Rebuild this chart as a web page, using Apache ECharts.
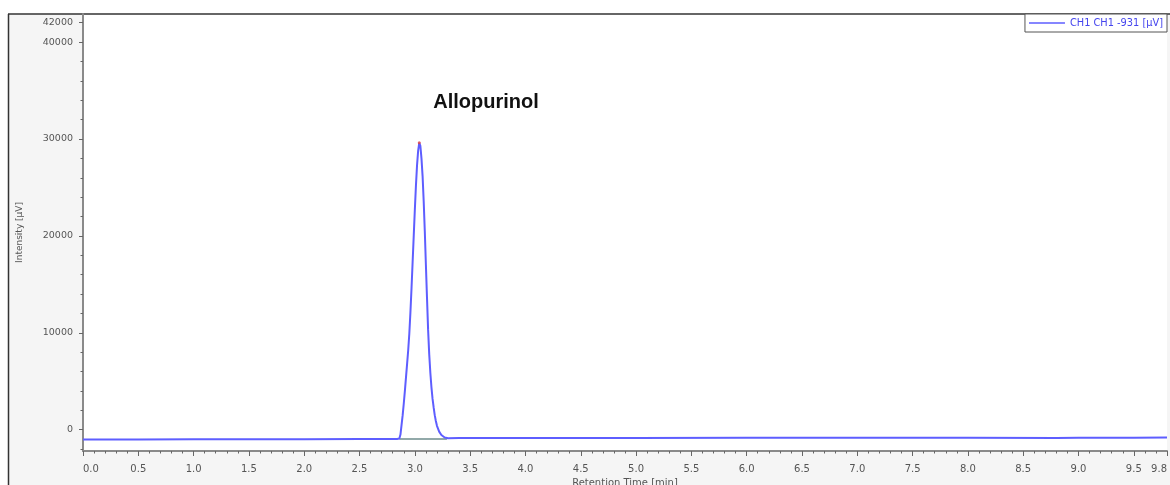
<!DOCTYPE html>
<html><head><meta charset="utf-8">
<script src="https://cdn.jsdelivr.net/npm/echarts@6/dist/echarts.min.js"></script>
<style>html,body{margin:0;padding:0;background:#fff}#c{width:1170px;height:485px}</style>
</head><body><div id="c"></div>
<script>
// Retention time [min] and intensity [µV]
const times = [0.0, 0.5, 1.0, 1.5, 2.0, 2.5, 2.80, 2.84, 2.86, 2.87, 2.88, 2.89, 2.90, 2.91, 2.92, 2.93, 2.94,
  2.95, 2.96, 2.97, 2.98, 2.99, 3.00, 3.01, 3.02, 3.03, 3.04, 3.05, 3.06, 3.07, 3.08, 3.09, 3.10, 3.11, 3.12,
  3.13, 3.14, 3.15, 3.16, 3.17, 3.18, 3.19, 3.20, 3.22, 3.24, 3.27, 3.30,
  3.4, 4.0, 5.0, 6.0, 7.0, 8.0, 8.8, 9.0, 9.5, 9.8];
const intensity = [-1020, -1010, -1000, -990, -980, -970, -960, -955, -920, -500, 500, 1500, 2700, 4000, 5400, 6800, 8200,
  9900, 12100, 14600, 17300, 20000, 22700, 25200, 27300, 28800, 29600, 29300, 28000, 26200, 23600, 20500, 17000, 13600, 10300,
  7800, 5900, 4400, 3200, 2300, 1500, 900, 400, -200, -550, -800, -880,
  -870, -860, -850, -840, -830, -820, -850, -830, -820, -800];
// integration baseline under the peak
const peakBaseTimes = [2.86, 3.29];
const peakBaseValues = [-950, -950];
const peakApex = [3.04, 29600];
const seriesName = 'CH1 CH1 -931 [µV]';
const peakName = 'Allopurinol';
const xLabelValues = [0, 0.5, 1.0, 1.5, 2.0, 2.5, 3.0, 3.5, 4.0, 4.5, 5.0, 5.5, 6.0, 6.5, 7.0, 7.5, 8.0, 8.5, 9.0, 9.5, 9.8];
const yLabelValues = [0, 10000, 20000, 30000, 40000, 42000];
const xName = 'Retention Time [min]';
const yName = 'Intensity [µV]';

const xMinor = []; for (let i = 0; i <= 98; i++) xMinor.push(+(i / 10).toFixed(1));
const yMinor = []; for (let v = -2000; v <= 42000; v += 2000) yMinor.push(v);

const FONT = 'DejaVu Sans';
const axisGray = '#8a8a8a';
const chart = echarts.init(document.getElementById('c'), null, {renderer: 'canvas'});
chart.setOption({
  animation: false,
  backgroundColor: '#fff',
  grid: {left: 83, right: 3, top: 14, bottom: 34, show: true, backgroundColor: '#fff', borderWidth: 0,
    containLabel: false, outerBoundsMode: 'none'},
  legend: {
    data: [{name: seriesName, icon: 'rect'}], right: 3, top: 14, padding: [3, 4, 3, 4], itemWidth: 36, itemHeight: 1.5, itemGap: 4,
    backgroundColor: '#fff', borderColor: '#555', borderWidth: 1, borderRadius: 0,
    textStyle: {color: '#4545ee', fontSize: 9.8, fontFamily: FONT, lineHeight: 12}
  },
  xAxis: [{
    type: 'value', min: 0, max: 9.8, position: 'bottom',
    name: xName, nameLocation: 'middle', nameGap: 27,
    nameTextStyle: {color: '#555', fontSize: 10, fontFamily: FONT, verticalAlign: 'top'},
    axisLine: {show: true, onZero: false, lineStyle: {color: axisGray, width: 2}},
    axisTick: {show: true, customValues: xLabelValues, length: 5, lineStyle: {color: '#666', width: 1}},
    axisLabel: {customValues: xLabelValues, formatter: v => v.toFixed(1), color: '#555', fontSize: 10, fontFamily: FONT, margin: 13,
      alignMinLabel: 'left', alignMaxLabel: 'right'},
    splitLine: {show: false}
  }, {
    type: 'value', min: 0, max: 9.8, position: 'bottom', offset: 0,
    axisLine: {show: false, onZero: false},
    axisTick: {show: true, customValues: xMinor, length: 2.5, lineStyle: {color: '#666', width: 1}},
    axisLabel: {show: false}, splitLine: {show: false}
  }],
  yAxis: [{
    type: 'value', min: -2200, max: 42900, position: 'left',
    name: yName, nameLocation: 'middle', nameGap: 59, nameRotate: 90,
    nameTextStyle: {color: '#555', fontSize: 9, fontFamily: FONT},
    axisLine: {show: true, onZero: false, lineStyle: {color: axisGray, width: 2}},
    axisTick: {show: true, customValues: yLabelValues, length: 4, lineStyle: {color: '#666', width: 1}},
    axisLabel: {customValues: yLabelValues, formatter: v => String(v), color: '#555', fontSize: 9.5, fontFamily: FONT, margin: 10},
    splitLine: {show: false}
  }, {
    type: 'value', min: -2200, max: 42900, position: 'left', offset: 0,
    axisLine: {show: false, onZero: false},
    axisTick: {show: true, customValues: yMinor, length: 2.5, lineStyle: {color: '#666', width: 1}},
    axisLabel: {show: false}, splitLine: {show: false}
  }],
  graphic: [
    {type: 'rect', shape: {x: 8, y: 14, width: 75, height: 471}, style: {fill: '#f5f5f5'}, silent: true},
    {type: 'rect', shape: {x: 83, y: 452, width: 1087, height: 33}, style: {fill: '#f5f5f5'}, silent: true},
    {type: 'rect', shape: {x: 1167, y: 14, width: 3, height: 438}, style: {fill: '#f5f5f5'}, silent: true},
    {type: 'line', shape: {x1: 8.5, y1: 14, x2: 8.5, y2: 485}, style: {stroke: '#333', lineWidth: 1.5}, silent: true},
    {type: 'line', shape: {x1: 8, y1: 14, x2: 1170, y2: 14}, style: {stroke: '#333', lineWidth: 1.5}, silent: true},
    {type: 'text', x: 486, y: 102, style: {text: peakName, font: 'bold 20px "Liberation Sans", Arial, sans-serif',
      fill: '#111', textAlign: 'center', textVerticalAlign: 'middle'}}
  ],
  series: [{
    name: seriesName, type: 'line', xAxisIndex: 0, yAxisIndex: 0,
    data: times.map((t, i) => [t, intensity[i]]),
    symbol: 'none', smooth: false, lineStyle: {color: '#5e5eff', width: 2}, itemStyle: {color: '#5e5eff'}, z: 3
  }, {
    name: 'baseline', type: 'line', xAxisIndex: 0, yAxisIndex: 0,
    data: peakBaseTimes.map((t, i) => [t, peakBaseValues[i]]),
    symbol: 'none', lineStyle: {color: '#6e8c8c', width: 1.5}, z: 2
  }, {
    name: 'apex', type: 'scatter', xAxisIndex: 0, yAxisIndex: 0,
    data: [peakApex], symbolSize: 3, itemStyle: {color: '#e04040'}, z: 4
  }]
});
</script></body></html>
